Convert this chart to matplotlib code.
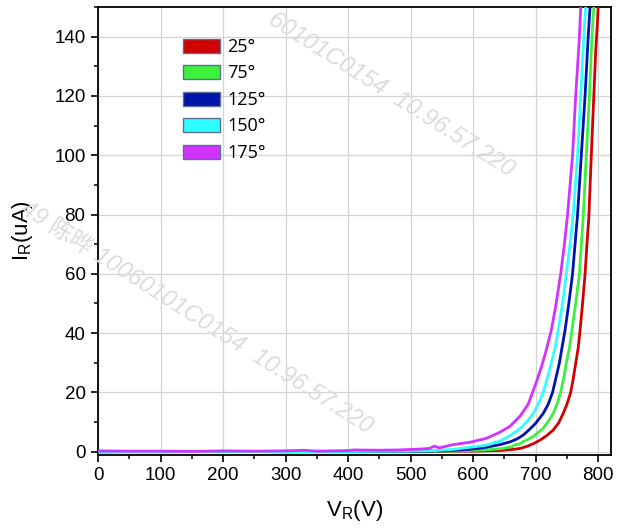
import matplotlib
matplotlib.use("Agg")
import matplotlib.pyplot as plt
from matplotlib.patches import Patch
from matplotlib.ticker import MultipleLocator

plt.rcParams['mathtext.default'] = 'regular'

labels = ["25°", "75°", "125°", "150°", "175°"]
colors = ["#d20000", "#3cf03c", "#0014aa", "#30ffff", "#d232ff"]

v25 = [0, 100, 200, 300, 400, 500, 600, 643, 664, 675, 686, 697, 707, 718, 728, 737, 744, 750, 756, 760, 764, 768, 771, 775, 779, 782, 785, 789, 793, 796, 798, 800]
i25 = [0.0, 0.0, 0.1, 0.0, 0.0, 0.1, 0.2, 0.4, 0.8, 1.1, 1.8, 2.8, 3.9, 5.5, 7.3, 9.8, 12.9, 16, 20, 24.5, 29.8, 35, 41, 50, 60, 70, 79, 100, 120, 135, 142, 150]

v75 = [0, 100, 200, 300, 400, 500, 580, 621, 648, 656, 662, 666, 675, 680, 688, 696, 704, 712, 720, 728, 734, 740, 745, 749, 754, 758, 764, 770, 776, 781, 786, 790, 793]
i75 = [0.0, 0.1, 0.0, 0.1, 0.0, 0.1, 0.3, 0.6, 1.1, 1.5, 1.7, 2.3, 2.6, 3.4, 4.2, 5.1, 6.5, 7.9, 10.2, 12.9, 16, 20, 25, 29.8, 35, 41, 50, 60, 79, 100, 120, 140, 150]

v125 = [0, 100, 200, 300, 400, 500, 550, 595, 621, 645, 660, 670, 680, 690, 700, 712, 720, 727, 732, 738, 742, 747, 753, 759, 763, 767, 773, 779, 784, 787]
i125 = [0.0, 0.1, 0.1, 0.0, 0.1, 0.1, 0.3, 0.8, 1.5, 2.5, 3.4, 4.3, 5.6, 7.5, 9.6, 12.9, 16, 20, 24.5, 30, 35, 41, 50, 60, 70, 80, 100, 120, 140, 150]

v150 = [0, 100, 200, 300, 400, 500, 540, 568, 595, 621, 643, 656, 670, 678, 688, 696, 704, 712, 719, 725, 731, 736, 743, 749, 755, 760, 767, 772, 777, 780]
i150 = [0.1, 0.0, 0.1, 0.0, 0.1, 0.2, 0.4, 0.8, 1.5, 2.2, 3.6, 5.1, 7.0, 8.4, 10.7, 12.9, 16, 20, 25, 30, 35, 41, 50, 60, 70, 80, 100, 120, 140, 150]

v175 = [0, 50, 100, 150, 200, 250, 300, 330, 350, 400, 410, 450, 480, 515, 530, 538, 546, 568, 595, 621, 643, 659, 675, 688, 695, 702, 709, 716, 722, 725, 732, 740, 746, 751, 759, 764, 770, 772]
i175 = [0.3, 0.2, 0.2, 0.1, 0.3, 0.2, 0.3, 0.5, 0.2, 0.4, 0.6, 0.5, 0.6, 0.9, 1.1, 1.9, 1.3, 2.4, 3.2, 4.5, 6.6, 8.6, 12, 16, 20, 24, 28.5, 33.5, 38.5, 41, 49, 60, 70, 80, 100, 120, 140, 150]

series_v = [v25, v75, v125, v150, v175]
series_i = [i25, i75, i125, i150, i175]

W, H = 622, 532
fig = plt.figure(figsize=(W / 100, H / 100), dpi=100)
ax = fig.add_axes([98 / W, 1 - 455 / H, (610.7 - 98) / W, (455 - 7) / H])

for v, i, c in zip(series_v, series_i, colors):
    ax.plot(v, i, color=c, lw=2.0, zorder=3, solid_joinstyle='round', solid_capstyle='round')

ax.set_xlim(0, 820)
ax.set_ylim(-1.1, 150)
ax.xaxis.set_major_locator(MultipleLocator(100))
ax.xaxis.set_minor_locator(MultipleLocator(50))
ax.yaxis.set_major_locator(MultipleLocator(20))
ax.yaxis.set_minor_locator(MultipleLocator(10))
ax.grid(True, which='major', color='#d4d4d4', lw=0.9, zorder=0)
ax.set_axisbelow(True)
for s in ax.spines.values():
    s.set_linewidth(1.3)
ax.tick_params(which='major', direction='out', length=5, width=1.2, labelsize=13.5, pad=4)
ax.tick_params(which='minor', direction='out', length=3, width=1.1)
for lab in ax.get_xticklabels() + ax.get_yticklabels():
    lab.set_fontfamily('Liberation Sans')

ax.set_xlabel(r'V$_\mathregular{R}$(V)', fontsize=16, family='Liberation Sans', labelpad=10)
ax.set_ylabel(r'I$_\mathregular{R}$(uA)', fontsize=16, family='Liberation Sans', labelpad=14)

handles = [Patch(facecolor=c, edgecolor='#5a6e96', lw=1.0) for c in colors]
leg = ax.legend(handles, labels, loc='upper left', bbox_to_anchor=(183 / W, 1 - 38 / H),
                bbox_transform=fig.transFigure, frameon=False, borderpad=0, borderaxespad=0,
                handlelength=2.05, handleheight=0.8, handletextpad=0.4, labelspacing=0.47,
                prop={'family': 'Open Sans', 'size': 13})

wm = dict(color='#dcdcdc', fontsize=17, rotation=-32.5, rotation_mode='anchor',
          family=['Liberation Sans', 'Noto Sans CJK SC'], style='italic', zorder=1)
fig.text(512 / W, 1 - 171 / H, '60101C0154  10.96.57.220', ha='right', va='center', **wm)
fig.text(370 / W, 1 - 428 / H, '49 陈晔 10060101C0154  10.96.57.220', ha='right', va='center', **wm)

fig.savefig('out.png', dpi=100)
